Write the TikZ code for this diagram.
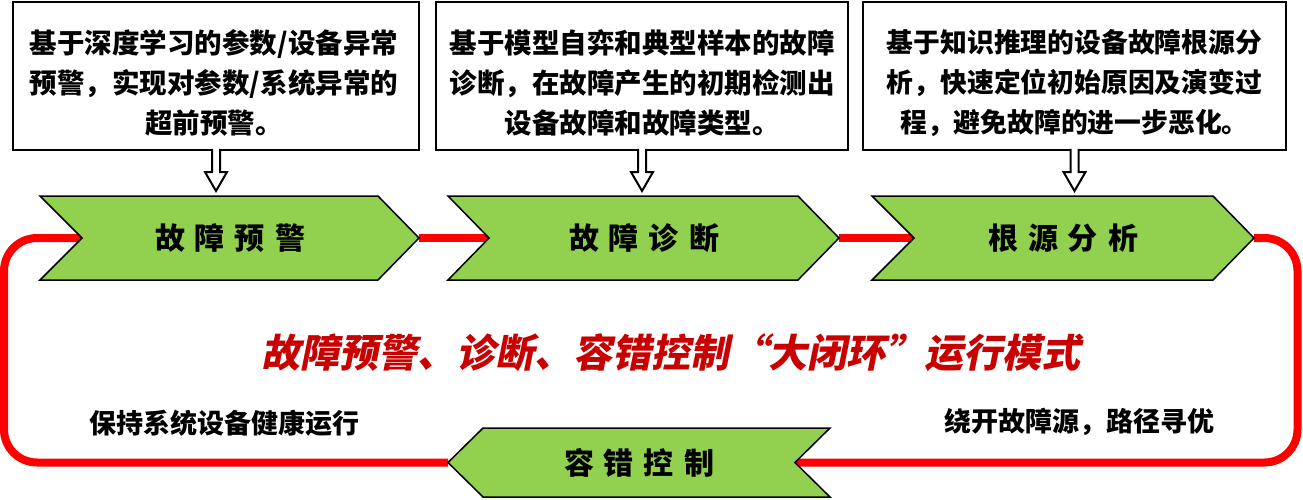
\documentclass[tikz,border=0pt]{standalone}
\usepackage{fontspec}
\setmainfont{Noto Sans CJK SC}
\newfontfamily\redfont{Noto Sans CJK SC}[FakeSlant=0.2]
\usetikzlibrary{calc}
\definecolor{chevgreen}{HTML}{92D050}
\definecolor{darkred}{HTML}{C80000}
\begin{document}
\begin{tikzpicture}[x=1pt,y=-1pt,
  descbox/.style={draw=black,line width=2.5pt,fill=white,minimum width=#1,minimum height=148pt,inner sep=0pt,outer sep=0pt},
  desctext/.style={font=\bfseries\fontsize{#1}{40}\selectfont,align=center,inner sep=0pt},
  hollow/.style={draw=black,line width=2pt,fill=white,line join=miter},
  chev/.style={draw=black,line width=1.5pt,fill=chevgreen,line join=miter},
  chevtext/.style={font=\bfseries\fontsize{30}{30}\selectfont,inner sep=0pt},
  redloop/.style={draw=red,line width=8pt},
  sidetext/.style={font=\bfseries\fontsize{27}{27}\selectfont,inner sep=0pt},
  midtext/.style={font=\redfont\bfseries\fontsize{39}{39}\selectfont,text=darkred,inner sep=0pt}
  ]
\useasboundingbox (0,0) rectangle (1303,500);

% description boxes
\node[descbox=406pt] (b1) at (216,76) {};
\node[descbox=412pt] (b2) at (642,76) {};
\node[descbox=423pt] (b3) at (1074.5,76) {};
\node[desctext=27.5] (t1) at (214,83) {基于深度学习的参数/设备异常\\预警，实现对参数/系统异常的\\超前预警。};
\node[desctext=27.5] (t2) at (642,83) {基于模型自弈和典型样本的故障\\诊断，在故障产生的初期检测出\\设备故障和故障类型。};
\node[desctext=26.8] (t3) at (1074.5,83) {基于知识推理的设备故障根源分\\析，快速定位初始原因及演变过\\程，避免故障的进一步恶化。};

% chevron key points
\coordinate (c1w) at (82,238);  \coordinate (c1e) at (419,238);
\coordinate (c2w) at (489,238); \coordinate (c2e) at (839,238);
\coordinate (c3w) at (914,238); \coordinate (c3e) at (1254,238);
\coordinate (c4w) at (448,462.5); \coordinate (c4e) at (795,462.5);
\coordinate (LB) at (4,462.5); \coordinate (RB) at (1297.5,462.5);

% red loop
\draw[redloop,rounded corners=33pt] (c1w) -| (LB) -- (c4w);
\draw[redloop,rounded corners=33pt] (c3e) -| (RB) -- (c4e);
\draw[redloop] (c1e) -- (c2w);
\draw[redloop] (c2e) -- (c3w);

% chevrons
\draw[chev] (40,196) -- (378,196) -- (c1e) -- (378,280) -- (40,280) -- (c1w) -- cycle;
\draw[chev] (448,196) -- (798,196) -- (c2e) -- (798,280) -- (448,280) -- (c2w) -- cycle;
\draw[chev] (872,196) -- (1213,196) -- (c3e) -- (1213,280) -- (872,280) -- (c3w) -- cycle;
\draw[chev] (c4w) -- (483,428) -- (830,428) -- (c4e) -- (830,497) -- (483,497) -- cycle;

\node[chevtext] (c1) at (230,238) {故\hspace{10pt}障\hspace{10pt}预\hspace{10pt}警};
\node[chevtext] (c2) at (644,238) {故\hspace{10pt}障\hspace{10pt}诊\hspace{10pt}断};
\node[chevtext] (c3) at (1063,238) {根\hspace{10pt}源\hspace{10pt}分\hspace{10pt}析};
\node[chevtext] (c4) at (639,463) {容\hspace{10pt}错\hspace{10pt}控\hspace{10pt}制};

% hollow arrows from boxes to chevrons
\foreach \b in {b1,b2,b3}{
  \draw[hollow] ($(\b.south)+(-4,-1.25)$) -- ($(\b.south)+(-4,22)$) -- ($(\b.south)+(-11,22)$)
    -- ($(\b.south)+(0,41)$) -- ($(\b.south)+(11,22)$) -- ($(\b.south)+(4,22)$) -- ($(\b.south)+(4,-1.25)$);
}

% texts
\node[midtext] (mid) at (670.5,353) {故障预警、诊断、容错控制“大闭环”运行模式};
\node[sidetext] (s1) at (224.5,423) {保持系统设备健康运行};
\node[sidetext] (s2) at (1079,421.5) {绕开故障源，路径寻优};
\end{tikzpicture}
\end{document}
